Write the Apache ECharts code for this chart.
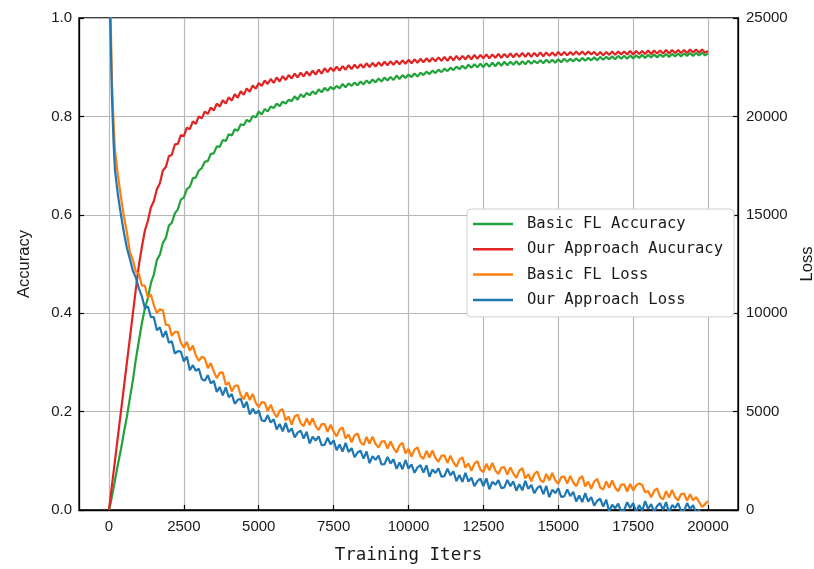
<!DOCTYPE html>
<html><head><meta charset="utf-8">
<script src="https://cdn.jsdelivr.net/npm/echarts@6/dist/echarts.min.js"></script>
<style>html,body{margin:0;padding:0;background:#fff}#c{width:814px;height:569px}</style>
</head><body><div id="c"></div>
<script>
const iters = [0,50,100,150,
200,300,400,500,600,700,800,900,1000,1100,
1200,1300,1400,1500,1600,1700,1800,1900,2000,2100,
2200,2300,2400,2500,2600,2700,2800,2900,3000,3100,
3200,3300,3400,3500,3600,3700,3800,3900,4000,4100,
4200,4300,4400,4500,4600,4700,4800,4900,5000,5100,
5200,5300,5400,5500,5600,5700,5800,5900,6000,6100,
6200,6300,6400,6500,6600,6700,6800,6900,7000,7100,
7200,7300,7400,7500,7600,7700,7800,7900,8000,8100,
8200,8300,8400,8500,8600,8700,8800,8900,9000,9100,
9200,9300,9400,9500,9600,9700,9800,9900,10000,10100,
10200,10300,10400,10500,10600,10700,10800,10900,11000,11100,
11200,11300,11400,11500,11600,11700,11800,11900,12000,12100,
12200,12300,12400,12500,12600,12700,12800,12900,13000,13100,
13200,13300,13400,13500,13600,13700,13800,13900,14000,14100,
14200,14300,14400,14500,14600,14700,14800,14900,15000,15100,
15200,15300,15400,15500,15600,15700,15800,15900,16000,16100,
16200,16300,16400,16500,16600,16700,16800,16900,17000,17100,
17200,17300,17400,17500,17600,17700,17800,17900,18000,18100,
18200,18300,18400,18500,18600,18700,18800,18900,19000,19100,
19200,19300,19400,19500,19600,19700,19800,19900,20000];

const basicAcc = [0,0.012,0.028,0.044,
0.06,0.093,0.123,0.158,0.19,0.228,0.264,0.307,0.344,0.38,
0.41,0.431,0.461,0.479,0.508,0.519,0.543,0.553,0.578,0.584,
0.603,0.611,0.631,0.635,0.652,0.657,0.674,0.676,0.69,0.695,
0.708,0.709,0.724,0.725,0.739,0.738,0.752,0.75,0.764,0.761,
0.774,0.771,0.784,0.782,0.793,0.789,0.801,0.798,0.81,0.804,
0.815,0.81,0.82,0.817,0.826,0.821,0.83,0.826,0.834,0.831,
0.841,0.834,0.845,0.839,0.848,0.843,0.851,0.845,0.855,0.849,
0.858,0.852,0.86,0.855,0.862,0.857,0.866,0.859,0.867,0.862,
0.869,0.863,0.871,0.865,0.873,0.867,0.875,0.869,0.877,0.871,
0.879,0.873,0.88,0.874,0.883,0.876,0.884,0.878,0.885,0.88,
0.887,0.881,0.889,0.884,0.891,0.886,0.893,0.888,0.895,0.89,
0.897,0.892,0.899,0.894,0.901,0.896,0.903,0.897,0.905,0.899,
0.906,0.9,0.907,0.9,0.908,0.901,0.909,0.902,0.91,0.903,
0.911,0.904,0.911,0.905,0.912,0.905,0.912,0.906,0.913,0.907,
0.913,0.908,0.914,0.908,0.915,0.909,0.915,0.909,0.916,0.91,
0.917,0.911,0.917,0.912,0.918,0.912,0.919,0.913,0.919,0.914,
0.92,0.914,0.921,0.915,0.921,0.916,0.922,0.916,0.923,0.917,
0.923,0.917,0.924,0.918,0.924,0.919,0.925,0.919,0.925,0.92,
0.926,0.92,0.926,0.921,0.927,0.921,0.927,0.922,0.928,0.922,
0.928,0.923,0.929,0.923,0.929,0.924,0.93,0.924,0.928];

const oursAcc = [0,0.025,0.05,0.075,
0.1,0.15,0.2,0.25,0.3,0.35,0.4,0.45,0.498,0.535,
0.568,0.588,0.615,0.628,0.652,0.664,0.69,0.697,0.719,0.722,
0.743,0.744,0.762,0.76,0.777,0.774,0.79,0.785,0.8,0.796,
0.81,0.805,0.818,0.812,0.826,0.82,0.833,0.826,0.839,0.832,
0.845,0.838,0.851,0.844,0.857,0.85,0.863,0.856,0.868,0.862,
0.873,0.866,0.876,0.868,0.879,0.871,0.882,0.874,0.884,0.877,
0.887,0.879,0.889,0.881,0.891,0.883,0.893,0.885,0.895,0.887,
0.898,0.89,0.899,0.892,0.901,0.893,0.902,0.895,0.904,0.896,
0.905,0.898,0.906,0.899,0.908,0.9,0.909,0.901,0.91,0.903,
0.911,0.904,0.912,0.905,0.913,0.906,0.914,0.907,0.915,0.908,
0.916,0.909,0.917,0.91,0.918,0.911,0.919,0.912,0.92,0.913,
0.921,0.913,0.922,0.914,0.923,0.915,0.923,0.916,0.924,0.916,
0.925,0.917,0.925,0.918,0.926,0.918,0.926,0.919,0.927,0.919,
0.927,0.92,0.928,0.92,0.928,0.921,0.929,0.921,0.929,0.921,
0.929,0.922,0.93,0.922,0.93,0.923,0.93,0.923,0.931,0.924,
0.931,0.924,0.931,0.925,0.932,0.925,0.932,0.925,0.932,0.926,
0.931,0.924,0.931,0.924,0.931,0.925,0.932,0.925,0.932,0.926,
0.932,0.926,0.933,0.926,0.933,0.927,0.933,0.927,0.934,0.927,
0.934,0.928,0.934,0.928,0.935,0.928,0.935,0.929,0.935,0.929,
0.935,0.929,0.936,0.93,0.936,0.93,0.936,0.93,0.933];

const basicLoss = [28000,25500,21800,19800,
18300,17000,15900,14900,14100,13100,12700,12100,12000,11400,
11400,10800,10950,10400,10000,10200,10150,9400,9400,8850,
9050,9050,8500,8250,8550,8100,8350,7850,7580,7790,
7700,7210,7470,7030,6700,6970,6990,6360,6480,6020,
6300,6340,5830,5630,5980,5590,5900,5460,5220,5490,
5460,5030,5350,4980,4710,5040,5120,4560,4750,4340,
4750,4850,4410,4260,4660,4310,4660,4260,4060,4360,
4370,3970,4330,3990,3740,4090,4190,3640,3840,3440,
3790,3890,3440,3300,3710,3370,3730,3350,3170,3480,
3500,3120,3480,3150,2920,3290,3410,2880,3100,2710,
3070,3180,2740,2600,3010,2670,3030,2640,2450,2760,
2770,2390,2760,2430,2200,2560,2680,2150,2370,1990,
2360,2480,2050,1930,2350,2020,2390,2010,1830,2150,
2180,1800,2170,1850,1630,2000,2130,1600,1830,1460,
1830,1960,1530,1410,1830,1510,1880,1510,1330,1670,
1700,1340,1730,1410,1200,1580,1720,1200,1440,1070,
1450,1580,1150,1030,1450,1130,1500,1130,950,1280,
1310,940,1320,1000,1250,1350,1270,900,970,650,
970,1100,670,540,960,640,1020,650,480,810,
840,470,800,500,650,420,150,300,450];

const oursLoss = [27000,24500,21000,18800,
17300,16000,15000,14100,13300,12750,12150,11800,11250,10850,
10250,10350,9800,9800,9130,9280,8780,9090,8500,8570,
7950,8070,8050,7550,7800,7100,7360,7070,7180,6650,
6570,6850,6430,6560,6000,6240,5830,6230,5730,5890,
5400,5600,5650,5200,5500,4850,5150,4900,5050,4550,
4510,4820,4440,4610,4090,4370,4000,4430,3960,4150,
3690,3930,4030,3630,3980,3380,3730,3530,3740,3300,
3310,3670,3330,3540,3040,3330,2970,3410,2950,3140,
2680,2920,3010,2610,2970,2380,2740,2550,2760,2320,
2330,2700,2360,2580,2090,2410,2070,2540,2100,2320,
1890,2160,2280,1900,2270,1690,2060,1880,2110,1690,
1720,2100,1760,1970,1470,1780,1430,1890,1440,1650,
1210,1470,1590,1220,1610,1050,1440,1280,1520,1110,
1150,1530,1210,1450,980,1310,1000,1480,1070,1280,
850,1110,1230,800,1220,650,1030,860,1100,670,
690,1050,710,920,430,740,400,860,430,660,
220,470,570,170,520,-80,270,90,320,-90,
0,400,100,350,-100,250,-50,450,50,300,
-100,200,350,0,400,-150,250,100,350,-50,
-50,350,50,250,-150,0,-300,-200,-400];

const xTicks = [0,2500,5000,7500,10000,12500,15000,17500,20000];
const names = ['Basic FL Accuracy','Our Approach Aucuracy','Basic FL Loss','Our Approach Loss'];
const colors = ['#22a33a','#e02323','#ff7f0e','#1f77b4'];

function pairs(vals){ return iters.map((x,i)=>[x, vals[i]]); }

const tickFont = {fontFamily:'Liberation Sans', fontSize:15, color:'#1a1a1a'};
const chart = echarts.init(document.getElementById('c'), null, {renderer:'canvas'});
chart.setOption({
  animation:false,
  backgroundColor:'#fff',
  grid:{left:79, right:76, top:18, bottom:59, outerBoundsMode:'none', containLabel:false, show:true, borderColor:'#000', borderWidth:1.3, backgroundColor:'transparent'},
  legend:{
    orient:'vertical', left:467, top:209,
    data:names, icon:'rect', itemWidth:40, itemHeight:2.5, itemGap:9.3,
    padding:[7,11,9,6],
    borderColor:'#d0d0d0', borderWidth:1, borderRadius:4, backgroundColor:'#fff',
    textStyle:{fontFamily:'DejaVu Sans Mono', fontSize:15.5, color:'#1a1a1a', lineHeight:16, padding:[0,0,0,9]}
  },
  xAxis:{
    type:'value', min:-1000, max:21000,
    name:'Training Iters', nameLocation:'middle', nameGap:36,
    nameTextStyle:{fontFamily:'DejaVu Sans Mono', fontSize:17.5, color:'#1a1a1a'},
    axisLine:{show:true, onZero:false, lineStyle:{color:'#000', width:1.3}},
    axisTick:{show:true, inside:true, length:5, customValues:xTicks, lineStyle:{color:'#000', width:1.2}},
    axisLabel:Object.assign({margin:9, customValues:xTicks, formatter:v=>String(v)}, tickFont),
    splitLine:{show:true, lineStyle:{color:'#b8b8b8', width:1.2}}
  },
  yAxis:[{
    type:'value', min:0, max:1, interval:0.2,
    name:'Accuracy', nameLocation:'middle', nameRotate:90, nameGap:46,
    nameTextStyle:{fontFamily:'Liberation Sans', fontSize:16.5, color:'#1a1a1a'},
    axisLine:{show:true, onZero:false, lineStyle:{color:'#000', width:1.3}},
    axisTick:{show:true, inside:true, length:5, lineStyle:{color:'#000', width:1.2}},
    axisLabel:Object.assign({margin:7, formatter:v=>v.toFixed(1)}, tickFont),
    splitLine:{show:true, lineStyle:{color:'#b8b8b8', width:1.2}}
  },{
    type:'value', min:0, max:25000, interval:5000, position:'right',
    name:'Loss', nameLocation:'middle', nameRotate:90, nameGap:59,
    nameTextStyle:{fontFamily:'Liberation Sans', fontSize:16.5, color:'#1a1a1a'},
    axisLine:{show:true, onZero:false, lineStyle:{color:'#000', width:1.3}},
    axisTick:{show:true, inside:true, length:5, lineStyle:{color:'#000', width:1.2}},
    axisLabel:Object.assign({margin:8, formatter:v=>String(v)}, tickFont),
    splitLine:{show:false}
  }],
  series:[
    {name:names[0], type:'line', yAxisIndex:0, data:pairs(basicAcc)},
    {name:names[1], type:'line', yAxisIndex:0, data:pairs(oursAcc)},
    {name:names[2], type:'line', yAxisIndex:1, data:pairs(basicLoss)},
    {name:names[3], type:'line', yAxisIndex:1, data:pairs(oursLoss)}
  ].map((s,i)=>Object.assign(s,{showSymbol:false, symbol:'none', clip:true, color:colors[i], lineStyle:{width:2.2, color:colors[i]}}))
});
</script></body></html>
